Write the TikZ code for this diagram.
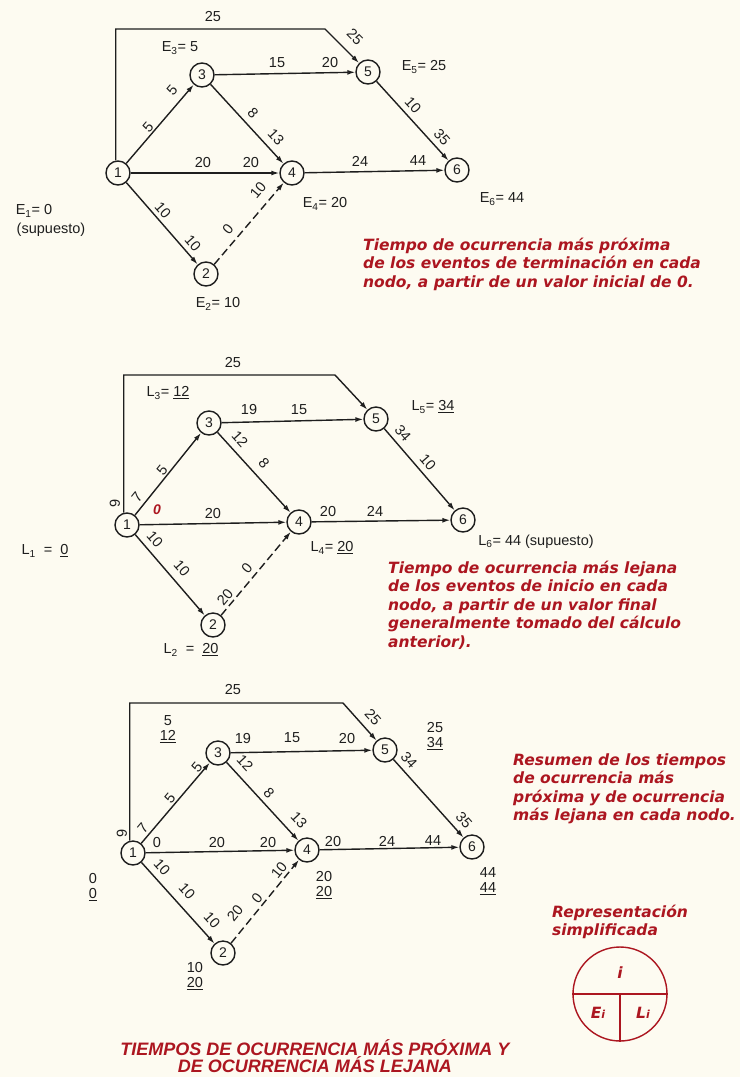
\documentclass[tikz,border=0pt]{standalone}
\usepackage{fontspec}
\setmainfont{Liberation Sans}
\newfontfamily\redfont{DejaVu Sans}
\newfontfamily\titlefont{Liberation Sans}
\usetikzlibrary{arrows.meta}
\definecolor{paper}{RGB}{253,251,241}
\definecolor{ink}{RGB}{30,30,30}
\definecolor{rojo}{RGB}{172,22,32}
\tikzset{
  nd/.style={circle,draw=ink,line width=1.4pt,minimum size=24pt,inner sep=0pt,text=ink,font=\fontsize{14}{14}\selectfont},
  lb/.style={font=\fontsize{14.5}{15.5}\selectfont,inner sep=0pt,text=ink,align=center},
  arr/.style={draw=ink,line width=1.4pt,-{Latex[open,length=8pt,width=5pt]}},
  dsh/.style={arr,dash pattern=on 8pt off 4pt},
  redtxt/.style={font=\redfont\bfseries\itshape\fontsize{15.5}{18.5}\selectfont,text=rojo,align=left,inner sep=0pt},
  titletxt/.style={font=\titlefont\bfseries\itshape\fontsize{18}{16.7}\selectfont,text=rojo,align=center,inner sep=0pt},
  repline/.style={draw=rojo,line width=1.4pt}
}
\begin{document}
\begin{tikzpicture}[x=1pt,y=-1pt]
\fill[paper] (0,0) rectangle (740,1077);
\useasboundingbox (0,0) rectangle (740,1077);

% ---------------- Diagram 1 ----------------
\node[nd] (a1) at (118,173) {1};
\node[nd] (a3) at (202,75) {3};
\node[nd] (a5) at (368,72) {5};
\node[nd] (a4) at (292,173) {4};
\node[nd] (a6) at (457,170) {6};
\node[nd] (a2) at (206,274) {2};
\coordinate (ta) at (325,29);
\draw[arr] (a1.100) |- (ta) -- (a5);
\draw[arr] (a1) -- (a3);
\draw[arr] (a1) -- (a4);
\draw[arr] (a1) -- (a2);
\draw[arr] (a3) -- (a5);
\draw[arr] (a3) -- (a4);
\draw[dsh] (a2) -- (a4);
\draw[arr] (a4) -- (a6);
\draw[arr] (a5) -- (a6);

\node[lb] (at25) at (213,17) {25};
\node[lb,rotate=-45] (ad25) at (355,37) {25};
\node[lb,rotate=49] (a13a) at (148,127) {5};
\node[lb,rotate=49] (a13b) at (172,90) {5};
\node[lb] (a35a) at (277,63) {15};
\node[lb] (a35b) at (330,63) {20};
\node[lb,rotate=-47] (a34a) at (253,113) {8};
\node[lb,rotate=-47] (a34b) at (276,137) {13};
\node[lb] (a14a) at (203,163) {20};
\node[lb] (a14b) at (251,163) {20};
\node[lb] (a46a) at (360,161) {24};
\node[lb] (a46b) at (418,161) {44};
\node[lb,rotate=-48] (a56a) at (413,105) {10};
\node[lb,rotate=-48] (a56b) at (442,137) {35};
\node[lb,rotate=-49] (a12a) at (163,210) {10};
\node[lb,rotate=-49] (a12b) at (193,243) {10};
\node[lb,rotate=50] (a24a) at (228,229) {0};
\node[lb,rotate=50] (a24b) at (258,190) {10};

\node[lb] (e3) at (180,48) {E\textsubscript{3}= 5};
\node[lb] (e5) at (424,67) {E\textsubscript{5}= 25};
\node[lb] (e4) at (325,204) {E\textsubscript{4}= 20};
\node[lb] (e6) at (502,199) {E\textsubscript{6}= 44};
\node[lb] (e1) at (34,211) {E\textsubscript{1}= 0};
\node[lb] (sup1) at (51,230) {(supuesto)};
\node[lb] (e2) at (218,304) {E\textsubscript{2}= 10};

\node[redtxt,anchor=west] (txt1) at (363,264) {Tiempo de ocurrencia más próxima\\de los eventos de terminación en cada\\nodo, a partir de un valor inicial de 0.};

% ---------------- Diagram 2 ----------------
\node[nd] (b1) at (127,525) {1};
\node[nd] (b3) at (209,423) {3};
\node[nd] (b5) at (376,419) {5};
\node[nd] (b4) at (299,522) {4};
\node[nd] (b6) at (463,520) {6};
\node[nd] (b2) at (213,625) {2};
\coordinate (tb) at (335,375);
\draw[arr] (b1.105) |- (tb) -- (b5);
\draw[arr] (b1) -- (b3);
\draw[arr] (b1) -- (b4);
\draw[arr] (b1) -- (b2);
\draw[arr] (b3) -- (b5);
\draw[arr] (b3) -- (b4);
\draw[dsh] (b2) -- (b4);
\draw[arr] (b4) -- (b6);
\draw[arr] (b5) -- (b6);

\node[lb] (bt25) at (233,363) {25};
\node[lb] (l3) at (168,393) {L\textsubscript{3}= \underline{12}};
\node[lb] (l5) at (433,407) {L\textsubscript{5}= \underline{34}};
\node[lb] (b35a) at (249,410) {19};
\node[lb] (b35b) at (299,410) {15};
\node[lb,rotate=-48] (b34a) at (240,439) {12};
\node[lb,rotate=-48] (b34b) at (264,463) {8};
\node[lb,rotate=-49] (b56a) at (403,433) {34};
\node[lb,rotate=-49] (b56b) at (428,462) {10};
\node[lb,rotate=90] (b15) at (115,503) {9};
\node[lb,rotate=51] (b13a) at (137,497) {7};
\node[lb,rotate=51] (b13b) at (162,470) {5};
\node[lb,text=rojo,font=\bfseries\itshape\fontsize{14}{14}\selectfont] (b14r) at (157,510) {0};
\node[lb] (b14a) at (213,513) {20};
\node[lb] (b46a) at (328,511) {20};
\node[lb] (b46b) at (375,511) {24};
\node[lb] (l4) at (332,548) {L\textsubscript{4}= \underline{20}};
\node[lb] (l6) at (536,542) {L\textsubscript{6}= 44 (supuesto)};
\node[lb] (l1) at (45,551) {L\textsubscript{1}\ \ =\ \ \underline{0}};
\node[lb,rotate=-49] (b12a) at (155,539) {10};
\node[lb,rotate=-49] (b12b) at (182,568) {10};
\node[lb,rotate=50] (b24a) at (247,568) {0};
\node[lb,rotate=50] (b24b) at (225,597) {20};
\node[lb] (l2) at (191,650) {L\textsubscript{2}\ \ =\ \ \underline{20}};

\node[redtxt,anchor=west] (txt2) at (388,605) {Tiempo de ocurrencia más lejana\\de los eventos de inicio en cada\\nodo, a partir de un valor final\\generalmente tomado del cálculo\\anterior).};

% ---------------- Diagram 3 ----------------
\node[nd] (c1) at (133,853) {1};
\node[nd] (c3) at (218,753) {3};
\node[nd] (c5) at (385,750) {5};
\node[nd] (c4) at (307,850) {4};
\node[nd] (c6) at (472,847) {6};
\node[nd] (c2) at (223,953) {2};
\coordinate (tc) at (343,703);
\draw[arr] (c1.105) |- (tc) -- (c5);
\draw[arr] (c1) -- (c3);
\draw[arr] (c1) -- (c4);
\draw[arr] (c1) -- (c2);
\draw[arr] (c3) -- (c5);
\draw[arr] (c3) -- (c4);
\draw[dsh] (c2) -- (c4);
\draw[arr] (c4) -- (c6);
\draw[arr] (c5) -- (c6);

\node[lb] (ct25) at (233,689) {25};
\node[lb,rotate=-48] (cd25) at (373,717) {25};
\node[lb] (s3) at (168,729) {5\\\underline{12}};
\node[lb] (c35a) at (243,738) {19};
\node[lb] (c35b) at (292,738) {15};
\node[lb] (c35c) at (347,738) {20};
\node[lb] (s5) at (435,736) {25\\\underline{34}};
\node[lb,rotate=-48] (c56a) at (409,760) {34};
\node[lb,rotate=-47] (c34a) at (245,763) {12};
\node[lb,rotate=50] (c13a) at (197,767) {5};
\node[lb,rotate=50] (c13b) at (170,798) {5};
\node[lb,rotate=-47] (c34b) at (269,793) {8};
\node[lb,rotate=-47] (c34c) at (299,820) {13};
\node[lb,rotate=-48] (c56b) at (464,820) {35};
\node[lb,rotate=90] (c15) at (122,833) {9};
\node[lb,rotate=50] (c13c) at (143,828) {7};
\node[lb] (c14a) at (157,842) {0};
\node[lb] (c14b) at (217,842) {20};
\node[lb] (c14c) at (268,842) {20};
\node[lb] (c46a) at (333,841) {20};
\node[lb] (c46b) at (387,841) {24};
\node[lb] (c46c) at (433,841) {44};
\node[lb,rotate=-48] (c12a) at (162,867) {10};
\node[lb,rotate=-48] (c12b) at (187,891) {10};
\node[lb,rotate=51] (c24a) at (279,870) {10};
\node[lb,rotate=51] (c24b) at (257,898) {0};
\node[lb,rotate=-48] (c12c) at (212,920) {10};
\node[lb,rotate=51] (c24c) at (235,913) {20};
\node[lb] (s4) at (324,885) {20\\\underline{20}};
\node[lb] (s6) at (488,881) {44\\\underline{44}};
\node[lb] (s1) at (93,887) {0\\\underline{0}};
\node[lb] (s2) at (195,976) {10\\\underline{20}};

\node[redtxt,anchor=west] (txt3) at (513,789) {Resumen de los tiempos\\de ocurrencia más\\próxima y de ocurrencia\\más lejana en cada nodo.};
\node[redtxt,anchor=west] (txt4) at (552,922) {Representación\\simplificada};

\node[circle,draw=rojo,line width=1.4pt,minimum size=94pt,inner sep=0pt] (rep) at (620,994) {};
\draw[repline] (rep.west) -- (rep.east);
\draw[repline] (rep.center) -- (rep.south);
\node[redtxt] (ri) at (620,973) {i};
\node[redtxt] (rE) at (598,1013) {E{\fontsize{11}{11}\selectfont i}};
\node[redtxt] (rL) at (643,1013) {L{\fontsize{11}{11}\selectfont i}};

\node[titletxt] (title) at (315,1056) {TIEMPOS DE OCURRENCIA MÁS PRÓXIMA Y\\DE OCURRENCIA MÁS LEJANA};
\end{tikzpicture}
\end{document}
